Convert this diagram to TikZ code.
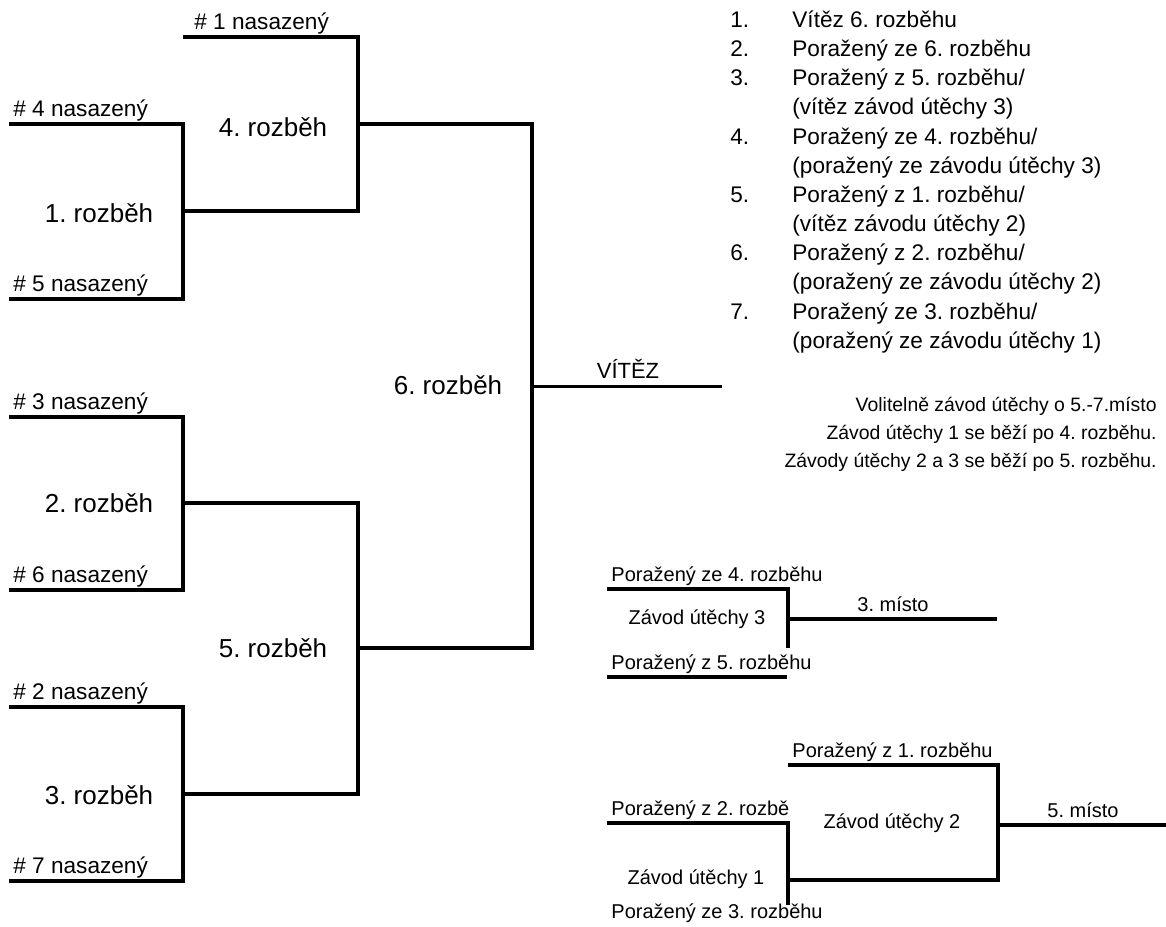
\documentclass[tikz,border=0pt]{standalone}
\usepackage{fontspec}
\setmainfont{Liberation Sans}
\frenchspacing
\begin{document}
\begin{tikzpicture}[x=0.5pt, y=-0.5pt,
    bracket/.style={line width=2pt},
    seed/.style={anchor=base west, inner sep=0pt, font=\fontsize{11.3}{13}\selectfont},
    heat/.style={inner sep=0pt, font=\fontsize{13}{15}\selectfont},
    loser/.style={anchor=base west, inner sep=0pt, font=\fontsize{10}{12}\selectfont},
    race/.style={inner sep=0pt, font=\fontsize{10}{12}\selectfont},
    item/.style={anchor=base west, inner sep=0pt, font=\fontsize{11.3}{13}\selectfont},
    note/.style={anchor=base east, inner sep=0pt, font=\fontsize{9.7}{12}\selectfont}]
  \useasboundingbox (0,0) rectangle (1166,926);

  % Draw the first round
  \draw[bracket] (9,124) -- (183,124) -- (183,299) -- (9,299);
  \draw[bracket] (9,417) -- (183,417) -- (183,590) -- (9,590);
  \draw[bracket] (9,707) -- (183,707) -- (183,881) -- (9,881);

  % Draw the second round with the outputs of the first
  \draw[bracket] (183,37) -- (358,37) -- (358,211) -- (183,211);
  \draw[bracket] (183,503) -- (358,503) -- (358,794) -- (183,794);

  % Draw the final
  \draw[bracket] (358,124) -- (532,124) -- (532,648) -- (358,648);
  \draw[line width=1.5pt] (532,386) -- (722,386);

  % Seed labels on the wires
  \node[seed] (s1) at (194,29) {\# 1 nasazený};
  \node[seed] (s4) at (13,116) {\# 4 nasazený};
  \node[seed] (s5) at (13,291) {\# 5 nasazený};
  \node[seed] (s3) at (13,409) {\# 3 nasazený};
  \node[seed] (s6) at (13,582) {\# 6 nasazený};
  \node[seed] (s2) at (13,699) {\# 2 nasazený};
  \node[seed] (s7) at (13,873) {\# 7 nasazený};

  % Heat labels
  \node[heat] (h1) at (99,213) {1. rozběh};
  \node[heat] (h2) at (99,503) {2. rozběh};
  \node[heat] (h3) at (99,795) {3. rozběh};
  \node[heat] (h4) at (273,127) {4. rozběh};
  \node[heat] (h5) at (273,648) {5. rozběh};
  \node[heat] (h6) at (448,385) {6. rozběh};
  \node[anchor=base, inner sep=0pt, font=\fontsize{11}{13}\selectfont] (win) at (628,378) {VÍTĚZ};

  % Final placings
  \node[item] (n1) at (730,27) {1.};
  \node[item] (t1) at (792,27) {Vítěz 6. rozběhu};
  \node[item] (n2) at (730,56) {2.};
  \node[item] (t2) at (792,56) {Poražený ze 6. rozběhu};
  \node[item] (n3) at (730,85) {3.};
  \node[item] (t3) at (792,85) {Poražený z 5. rozběhu/};
  \node[item] (t3b) at (792,114) {(vítěz závod útěchy 3)};
  \node[item] (n4) at (730,144) {4.};
  \node[item] (t4) at (792,144) {Poražený ze 4. rozběhu/};
  \node[item] (t4b) at (792,173) {(poražený ze závodu útěchy 3)};
  \node[item] (n5) at (730,202) {5.};
  \node[item] (t5) at (792,202) {Poražený z 1. rozběhu/};
  \node[item] (t5b) at (792,231) {(vítěz závodu útěchy 2)};
  \node[item] (n6) at (730,260) {6.};
  \node[item] (t6) at (792,260) {Poražený z 2. rozběhu/};
  \node[item] (t6b) at (792,289) {(poražený ze závodu útěchy 2)};
  \node[item] (n7) at (730,319) {7.};
  \node[item] (t7) at (792,319) {Poražený ze 3. rozběhu/};
  \node[item] (t7b) at (792,348) {(poražený ze závodu útěchy 1)};

  % Notes on the consolation races
  \node[note] (c1) at (1157,411) {Volitelně závod útěchy o 5.-7.místo};
  \node[note] (c2) at (1157,439) {Závod útěchy 1 se běží po 4. rozběhu.};
  \node[note] (c3) at (1157,467) {Závody útěchy 2 a 3 se běží po 5. rozběhu.};

  % Draw the consolation race 3
  \draw[bracket] (607,589) -- (788,589) -- (788,648);
  \draw[bracket] (607,677) -- (787,677);
  \draw[bracket] (788,619) -- (997,619);
  \node[loser] (l4) at (611,581) {Poražený ze 4. rozběhu};
  \node[loser] (l5) at (611,669) {Poražený z 5. rozběhu};
  \node[race] (z3) at (697,619) {Závod útěchy 3};
  \node[anchor=base, inner sep=0pt, font=\fontsize{10}{12}\selectfont] (p3) at (893,611) {3. místo};

  % Draw the consolation races 1 and 2
  \draw[bracket] (607,823) -- (788,823) -- (788,905);
  \draw[bracket] (788,880) -- (998,880) -- (998,765) -- (788,765);
  \draw[bracket] (998,825) -- (1166,825);
  \begin{scope}
    \clip (600,780) rectangle (788,830);
    \node[loser] (l2) at (611,815) {Poražený z 2. rozběhu};
  \end{scope}
  \node[loser] (l1) at (792,757) {Poražený z 1. rozběhu};
  \node[loser] (l3) at (611,918) {Poražený ze 3. rozběhu};
  \node[race] (z1) at (696,879) {Závod útěchy 1};
  \node[race] (z2) at (892,823) {Závod útěchy 2};
  \node[anchor=base, inner sep=0pt, font=\fontsize{10}{12}\selectfont] (p5) at (1083,817) {5. místo};

\end{tikzpicture}
\end{document}
